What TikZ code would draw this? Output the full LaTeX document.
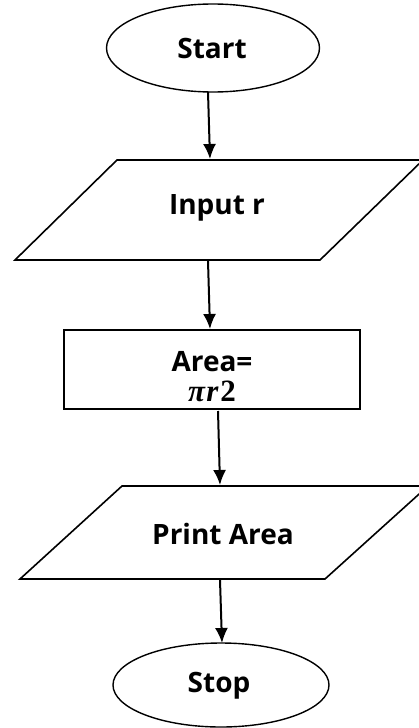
\documentclass[tikz,border=0pt]{standalone}
\usepackage{fontspec}
\setmainfont{Open Sans}
\newfontfamily\mathlike{Liberation Serif}
\usetikzlibrary{arrows.meta,shapes.geometric}
\tikzset{
  lbl/.style={font=\fontsize{28}{32}\selectfont\bfseries, inner sep=0pt},
  term/.style={draw, ellipse, line width=1.4pt, inner sep=0pt},
  procbox/.style={draw, rectangle, line width=2.6pt, inner sep=0pt},
  io/.style={draw, line width=1.6pt},
  flow/.style={line width=2pt, -{Latex[length=15pt,width=13pt]}}
}
\begin{document}
\begin{tikzpicture}[x=1pt,y=-1pt]
\useasboundingbox (0,0) rectangle (419,728);
% Start
\node[term, minimum width=213pt, minimum height=88pt] (start) at (213,48) {};
\node[lbl] (starttxt) at (212,48) {Start};
% Input
\draw[io] (117,160) -- (423,160) -- (320,260) -- (15,260) -- cycle;
\node[lbl] (input) at (217,208) {Input r};
% Process
\node[procbox, minimum width=296pt, minimum height=79pt] (proc) at (212,369.5) {};
\node[lbl] (area1) at (212,362) {Area=};
\node[inner sep=0pt, font=\fontsize{31}{35}\selectfont\mathlike\bfseries] (area2) at (212,391) {{\itshape π\kern1.5pt r\kern2pt}2};
% Print
\draw[io] (122,486) -- (428,486) -- (325,579) -- (20,579) -- cycle;
\node[lbl] (print) at (223,534) {Print Area};
% Stop
\node[term, minimum width=216pt, minimum height=84pt] (stop) at (221,685) {};
\node[lbl] (stoptxt) at (219,686) {Stop};
% connector ends
\coordinate (a1s) at (208,92);
\coordinate (a1e) at (210,159);
\coordinate (a2s) at (208,261);
\coordinate (a2e) at (210,329);
\coordinate (a3s) at (218,411);
\coordinate (a3e) at (220,485);
\coordinate (a4s) at (220,580);
\coordinate (a4e) at (222,643);
\draw[flow] (a1s) -- (a1e);
\draw[flow] (a2s) -- (a2e);
\draw[flow] (a3s) -- (a3e);
\draw[flow] (a4s) -- (a4e);
\end{tikzpicture}
\end{document}
